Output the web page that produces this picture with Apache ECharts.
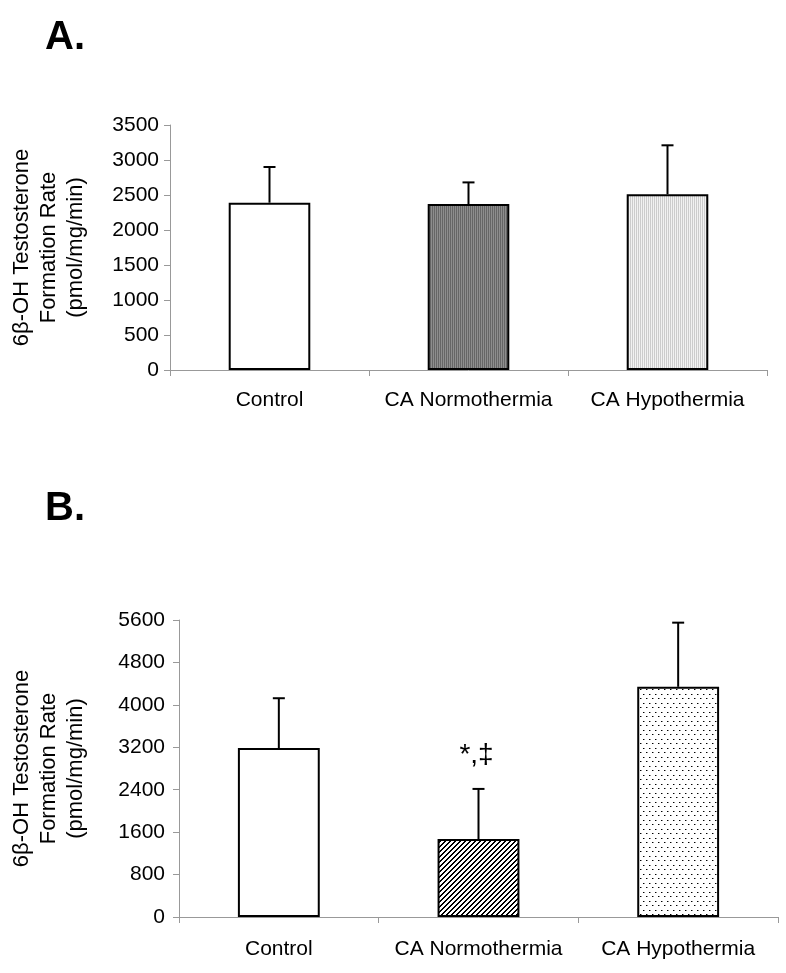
<!DOCTYPE html>
<html>
<head>
<meta charset="utf-8">
<script src="https://cdn.jsdelivr.net/npm/echarts@6/dist/echarts.min.js"></script>
<style>
html,body{margin:0;padding:0;background:#fff;}
#chart{width:786px;height:973px;}
</style>
</head>
<body>
<div id="chart"></div>
<script>
// ---- data ----
var categories = ['Control', 'CA Normothermia', 'CA Hypothermia'];
var meansA = [2390, 2370, 2510];
var upperA = [2900, 2680, 3210];
var meansB = [3185, 1470, 4340];
var upperB = [4125, 2415, 5550];
var annotB = ['', '*,\u2021', ''];
var yTicksA = {min: 0, max: 3500, interval: 500};
var yTicksB = {min: 0, max: 5600, interval: 800};
var yName = '6\u03B2-OH Testosterone\nFormation Rate\n(pmol/mg/min)';

// ---- patterns ----
function makePattern(w, h, fn) {
  var c = document.createElement('canvas');
  c.width = w; c.height = h;
  var ctx = c.getContext('2d');
  var img = ctx.createImageData(w, h);
  for (var y = 0; y < h; y++) for (var x = 0; x < w; x++) {
    var v = fn(x, y);
    var i = (y * w + x) * 4;
    img.data[i] = v; img.data[i+1] = v; img.data[i+2] = v; img.data[i+3] = 255;
  }
  ctx.putImageData(img, 0, 0);
  return {image: c, repeat: 'repeat'};
}
var darkStripes = makePattern(2, 2, function (x) { return x === 0 ? 0x66 : 0x8e; });
var lightStripes = makePattern(2, 2, function (x) { return x === 0 ? 0xcc : 0xf2; });
var hatch = makePattern(5, 5, function (x, y) { return ((x + y) % 5) < 2 ? 0 : 255; });
var dots = makePattern(6, 9, function (x, y) {
  if ((x === 1 && y === 1) || (x === 4 && y === 5)) return 0;
  if ((x === 2 && y === 1) || (x === 5 && y === 5)) return 0x90;
  return 255;
});

var fillsA = ['#ffffff', darkStripes, lightStripes];
var fillsB = ['#ffffff', hatch, dots];

var FONT = 'Liberation Sans, Arial, sans-serif';

function barData(vals, fills) {
  return vals.map(function (v, i) {
    return {value: v, itemStyle: {color: fills[i]}};
  });
}
function errData(means, uppers, annots) {
  return means.map(function (m, i) { return [i, m, uppers[i], annots ? annots[i] : '']; });
}
function renderErr(params, api) {
  var x = api.value(0);
  var p0 = api.coord([x, api.value(1)]);
  var p1 = api.coord([x, api.value(2)]);
  var capHalf = 6;
  var children = [
    {type: 'line', shape: {x1: p0[0], y1: p0[1], x2: p1[0], y2: p1[1]}, style: {stroke: '#000', lineWidth: 2}},
    {type: 'line', shape: {x1: p1[0] - capHalf, y1: p1[1], x2: p1[0] + capHalf, y2: p1[1]}, style: {stroke: '#000', lineWidth: 2}}
  ];
  var t = api.value(3);
  if (t) {
    children.push({type: 'text', x: p1[0] - 2, y: p1[1] - 20,
      style: {text: t, fill: '#000', font: '28px ' + FONT, align: 'center', verticalAlign: 'bottom'}});
  }
  return {type: 'group', children: children};
}

function xAxisCfg(gi) {
  return {
    type: 'category', gridIndex: gi, data: categories,
    axisLine: {lineStyle: {color: '#999', width: 1}},
    axisTick: {show: true, length: 6, lineStyle: {color: '#999'}},
    axisLabel: {color: '#000', fontSize: 21, fontFamily: FONT, margin: gi === 0 ? 20 : 22, interval: 0}
  };
}
function yAxisCfg(gi, t, gap, margin) {
  return {
    type: 'value', gridIndex: gi, min: t.min, max: t.max, interval: t.interval,
    name: yName, nameLocation: 'middle', nameGap: gap,
    nameTextStyle: {color: '#000', fontSize: 22, fontFamily: FONT, lineHeight: 27, align: 'center'},
    axisLine: {show: true, lineStyle: {color: '#999', width: 1}},
    axisTick: {show: true, length: 6, lineStyle: {color: '#999'}},
    splitLine: {show: false},
    axisLabel: {color: '#000', fontSize: 21, fontFamily: FONT, margin: margin,
      formatter: function (v) { return String(v); }}
  };
}

var chart = echarts.init(document.getElementById('chart'), null, {renderer: 'canvas'});
chart.setOption({
  animation: false,
  backgroundColor: '#fff',
  title: [
    {text: 'A.', left: 40, top: 13, textStyle: {fontSize: 40, fontWeight: 'bold', color: '#000', fontFamily: FONT}},
    {text: 'B.', left: 40, top: 484, textStyle: {fontSize: 40, fontWeight: 'bold', color: '#000', fontFamily: FONT}}
  ],
  grid: [
    {left: 167, top: 125, width: 600, height: 245},
    {left: 178, top: 620, width: 600, height: 297}
  ],
  xAxis: [xAxisCfg(0), xAxisCfg(1)],
  yAxis: [yAxisCfg(0, yTicksA, 81, 11), yAxisCfg(1, yTicksB, 90, 14)],
  series: [
    {type: 'bar', xAxisIndex: 0, yAxisIndex: 0, barWidth: '41%', data: barData(meansA, fillsA),
      itemStyle: {borderColor: '#000', borderWidth: 2}},
    {type: 'custom', xAxisIndex: 0, yAxisIndex: 0, renderItem: renderErr, data: errData(meansA, upperA), z: 5},
    {type: 'bar', xAxisIndex: 1, yAxisIndex: 1, barWidth: '41%', data: barData(meansB, fillsB),
      itemStyle: {borderColor: '#000', borderWidth: 2}},
    {type: 'custom', xAxisIndex: 1, yAxisIndex: 1, renderItem: renderErr, data: errData(meansB, upperB, annotB), z: 5}
  ]
});
</script>
</body>
</html>
